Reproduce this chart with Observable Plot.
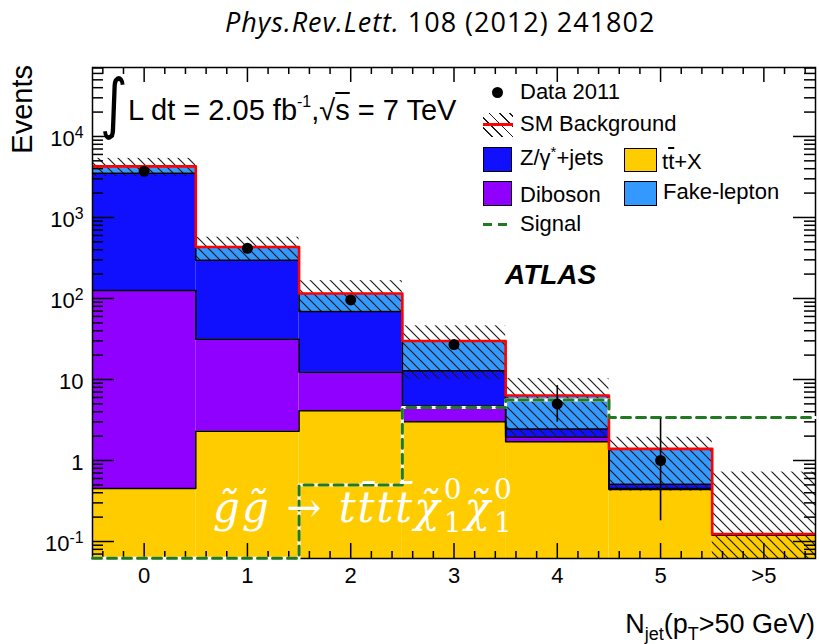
<!DOCTYPE html>
<html>
<head>
<meta charset="utf-8">
<script src="https://cdn.jsdelivr.net/npm/d3@7"></script>
<script src="https://cdn.jsdelivr.net/npm/@observablehq/plot@0.6"></script>
<style>
  body { margin: 0; background: #fff; }
  #chart { position: relative; width: 819px; height: 644px; font-family: "Liberation Sans", Arial, sans-serif; color: #000; overflow: hidden; }
  #chart svg { position: absolute; left: 0; top: 0; }
  .abs { position: absolute; white-space: nowrap; }
  #title { left: 225px; top: 5px; font: 27px "Open Sans", sans-serif; letter-spacing: 1px; line-height: 34px; }
  #ylab { left: 22px; top: 65px; font-size: 29px; line-height: 29px; transform-origin: 0 0; transform: rotate(-90deg) translate(-100%, -50%); }
  #xlab { right: 4px; top: 611px; font-size: 27px; line-height: 27px; }
  #xlab sub { font-size: 18px; vertical-align: -7px; line-height: 0; }
  .leg-text { font-size: 22px; line-height: 22px; }
  .swatch { position: absolute; box-sizing: border-box; border: 1.5px solid #000; }
  #lumi { left: 128px; top: 96px; font-size: 29px; line-height: 29px; }
  #lumi sup { font-size: 16px; vertical-align: 13px; line-height: 0; }
  #integral { left: 100px; top: 68px; font: 66px "DejaVu Sans", sans-serif; line-height: 72px; transform: scaleX(0.8); transform-origin: 0 0; }
  #atlas { left: 505px; top: 261px; font-size: 28px; line-height: 28px; font-weight: bold; font-style: italic; }
  #note { left: 213px; top: 487px; font: italic 42px "DejaVu Serif", serif; line-height: 42px; letter-spacing: 2px; color: #fff; }
  #note .up { font-style: normal; }
  #note .ss { display: inline-block; position: relative; width: 23px; height: 1px; }
  #note .ss span { position: absolute; left: 2px; font: 28px "DejaVu Serif", serif; line-height: 28px; letter-spacing: 0; }
  #note .ss .sup { top: -45px; }
  #note .ss .sub { top: -12px; }
  .ov { text-decoration: overline; }
</style>
</head>
<body>
<div id="chart"></div>
<script>
// Jet multiplicity bins
const bins = ["0", "1", "2", "3", "4", "5", ">5"];

// Background components per bin (events)
const ttbarX     = [0.45, 2.3, 4.1, 3.0, 1.7, 0.44, 0.12];
const diboson    = [125, 29, 8.2, 1.7, 0.25, 0.01, 0];
const zJets      = [3380, 265, 57, 8.1, 0.5, 0.06, 0];
const fakeLepton = [770, 135, 46, 17, 3.9, 0.88, 0.004];

// SM background uncertainty band
const bkgLow  = [3200, 295, 68, 10, 2.0, 0.42, 0.01];
const bkgHigh = [5370, 571, 166, 46, 10.3, 1.94, 0.72];

// Observed data 2011 with error bars
const data2011 = [3720, 417, 96, 27, 5, 1, null];
const dataLow  = [3660, 400, 90, 25, 2.97, 0.18, null];
const dataHigh = [3780, 434, 102, 30, 8.4, 3.27, null];

// Signal expectation
const signal = [0.062, 0.062, 0.50, 4.5, 5.6, 3.4, 3.4];

// Axis ticks
const yTicks = [0.1, 1, 10, 100, 1000, 10000];
const yTickLabels = ["10^-1", "1", "10", "10^2", "10^3", "10^4"];
const yDomain = [0.0617, 71000];

const W = 819, H = 644;
const margin = {top: 67, right: 4, bottom: 86, left: 92};
const innerW = W - margin.left - margin.right;
const innerH = H - margin.top - margin.bottom;

const colors = {ttbar: "#ffcc00", diboson: "#9000ff", zjets: "#1010ff", fake: "#3399ff", total: "#ff0000", signal: "#217a21"};

const stack = bins.map((label, i) => {
  const top1 = ttbarX[i];
  const top2 = top1 + diboson[i];
  const top3 = top2 + zJets[i];
  const top4 = top3 + fakeLepton[i];
  return {label, i, x1: i - 0.5, x2: i + 0.5, base: 1e-3, top1, top2, top3, top4, lo: bkgLow[i], hi: bkgHigh[i]};
});

const points = bins.map((label, i) => ({i, v: data2011[i], lo: dataLow[i], hi: dataHigh[i]})).filter(d => d.v != null);

// histogram outline: one point per left bin edge plus the closing right edge
function steps(values) {
  return values.map((v, i) => ({x: i - 0.5, y: v})).concat({x: values.length - 0.5, y: values[values.length - 1]});
}

// frame tick positions
const xMinor = d3.range(-4, 65, 2).map(k => k / 10).filter(v => Math.abs(v - Math.round(v)) > 1e-6);
const xMajor = bins.map((_, i) => i);
const yMinor = [];
for (let e = -2; e <= 4; e++) for (let m = 2; m <= 9; m++) {
  const v = m * Math.pow(10, e);
  if (v > yDomain[0] && v < yDomain[1]) yMinor.push(v);
}

const tick = {stroke: "#000", strokeWidth: 1.5};

const svg = Plot.plot({
  width: W, height: H,
  marginTop: margin.top, marginRight: margin.right, marginBottom: margin.bottom, marginLeft: margin.left,
  style: {fontFamily: "'Liberation Sans', Arial, sans-serif", fontSize: "22px", color: "#000", background: "transparent"},
  x: {domain: [-0.5, 6.5], axis: null},
  y: {type: "log", domain: yDomain, axis: null},
  marks: [
    // stacked backgrounds
    Plot.rect(stack, {x1: "x1", x2: "x2", y1: "base", y2: "top1", fill: colors.ttbar, clip: true}),
    Plot.rect(stack, {x1: "x1", x2: "x2", y1: "top1", y2: "top2", fill: colors.diboson, clip: true}),
    Plot.rect(stack, {x1: "x1", x2: "x2", y1: "top2", y2: "top3", fill: colors.zjets, clip: true}),
    Plot.rect(stack, {x1: "x1", x2: "x2", y1: "top3", y2: "top4", fill: colors.fake, clip: true}),
    // uncertainty band
    Plot.rect(stack, {x1: "x1", x2: "x2", y1: "lo", y2: "hi", fill: "url(#bkgHatch)", clip: true}),
    // layer outlines
    Plot.line(steps(stack.map(d => d.top1)), {x: "x", y: "y", curve: "step-after", stroke: "#000", strokeWidth: 1.5, clip: true}),
    Plot.line(steps(stack.map(d => d.top2)), {x: "x", y: "y", curve: "step-after", stroke: "#000", strokeWidth: 1.5, clip: true}),
    Plot.line(steps(stack.map(d => d.top3)), {x: "x", y: "y", curve: "step-after", stroke: "#000", strokeWidth: 1.5, clip: true}),
    Plot.line(steps(stack.map(d => d.top4)), {x: "x", y: "y", curve: "step-after", stroke: colors.total, strokeWidth: 2.6, clip: true}),
    // frame and ticks
    Plot.frame({stroke: "#000", strokeWidth: 1.5}),
    Plot.ruleX(xMajor, {x: d => d, insetTop: innerH - 15, ...tick}),
    Plot.ruleX(xMinor, {x: d => d, insetTop: innerH - 7, ...tick}),
    Plot.ruleX(xMajor, {x: d => d, insetBottom: innerH - 15, ...tick}),
    Plot.ruleX(xMinor, {x: d => d, insetBottom: innerH - 7, ...tick}),
    Plot.ruleY(yTicks, {y: d => d, insetRight: innerW - 22, ...tick}),
    Plot.ruleY(yMinor, {y: d => d, insetRight: innerW - 11, ...tick}),
    Plot.ruleY(yTicks, {y: d => d, insetLeft: innerW - 22, ...tick}),
    Plot.ruleY(yMinor, {y: d => d, insetLeft: innerW - 11, ...tick}),
    // signal
    Plot.line(steps(signal), {x: "x", y: "y", curve: "step-after", stroke: "#fff", strokeWidth: 3}),
    Plot.line(steps(signal), {x: "x", y: "y", curve: "step-after", stroke: colors.signal, strokeWidth: 3, strokeDasharray: "9,6"}),
    // data
    Plot.ruleX(points, {x: "i", y1: "lo", y2: "hi", stroke: "#000", strokeWidth: 1.6}),
    Plot.dot(points, {x: "i", y: "v", r: 5.5, fill: "#000"}),
    // tick labels
    Plot.text(yTicks, {y: d => d, text: (d, i) => yTickLabels[i], frameAnchor: "left", dx: -9, dy: 2, textAnchor: "end", fontSize: 22}),
    Plot.text(bins, {x: (d, i) => i, text: d => d, frameAnchor: "bottom", dy: 24, fontSize: 22})
  ]
});

// hatch pattern for the uncertainty band
const defs = d3.select(svg).insert("defs", ":first-child");
const pat = defs.append("pattern").attr("id", "bkgHatch").attr("patternUnits", "userSpaceOnUse")
  .attr("width", 10).attr("height", 10);
pat.append("path").attr("d", "M0,0L10,10M-1,9L1,11M9,-1L11,1").attr("stroke", "#1a1a1a").attr("stroke-width", 1.2);

// superscript exponents in tick labels
d3.select(svg).selectAll("text").each(function () {
  const s = this.textContent;
  if (!s.includes("^")) return;
  const [base, exp] = s.split("^");
  this.textContent = base;
  d3.select(this).append("tspan").attr("dy", "-0.45em").attr("font-size", "0.72em").text(exp);
});

const chart = document.getElementById("chart");
chart.appendChild(svg);

function addHTML(html) {
  chart.insertAdjacentHTML("beforeend", html);
}

addHTML(`<div id="title" class="abs"><i>Phys.Rev.Lett.</i> 108 (2012) 241802</div>`);
addHTML(`<div id="ylab" class="abs">Events</div>`);
addHTML(`<div id="xlab" class="abs">N<sub>jet</sub>(p<sub>T</sub>&gt;50 GeV)</div>`);
addHTML(`<div id="integral" class="abs">∫</div>`);
addHTML(`<div id="lumi" class="abs">L dt = 2.05 fb<sup>-1</sup>,√<span class="ov">s</span> = 7 TeV</div>`);
addHTML(`<div id="atlas" class="abs">ATLAS</div>`);
addHTML(`<div id="note" class="abs">g\u0303g\u0303 <span class="up">→</span> tt\u0304tt\u0304χ\u0303<span class="ss"><span class="sup">0</span><span class="sub">1</span></span>χ\u0303<span class="ss"><span class="sup">0</span><span class="sub">1</span></span></div>`);

// legend
addHTML(`<div class="abs" style="left:491.5px;top:86.5px;width:11px;height:11px;border-radius:50%;background:#000"></div>`);
addHTML(`<div class="abs leg-text" style="left:520px;top:81px">Data 2011</div>`);
addHTML(`<div class="abs" style="left:483px;top:113px;width:30px;height:24px;background:repeating-linear-gradient(45deg, transparent 0 6px, #1a1a1a 6px 7.3px)"></div>`);
addHTML(`<div class="abs" style="left:483px;top:123px;width:30px;height:2.5px;background:${colors.total}"></div>`);
addHTML(`<div class="abs leg-text" style="left:520px;top:113px">SM Background</div>`);
addHTML(`<div class="swatch" style="left:483px;top:147px;width:29px;height:25px;background:${colors.zjets}"></div>`);
addHTML(`<div class="abs leg-text" style="left:520px;top:147px">Z/γ<sup style="font-size:15px;vertical-align:8px;line-height:0">*</sup>+jets</div>`);
addHTML(`<div class="swatch" style="left:624px;top:148px;width:33px;height:24px;background:${colors.ttbar}"></div>`);
addHTML(`<div class="abs leg-text" style="left:662px;top:151px">t<span class="ov">t</span>+X</div>`);
addHTML(`<div class="swatch" style="left:483px;top:181px;width:29px;height:25px;background:${colors.diboson}"></div>`);
addHTML(`<div class="abs leg-text" style="left:520px;top:184px">Diboson</div>`);
addHTML(`<div class="swatch" style="left:624px;top:181px;width:33px;height:25px;background:${colors.fake}"></div>`);
addHTML(`<div class="abs leg-text" style="left:663px;top:181px">Fake-lepton</div>`);
addHTML(`<div class="abs" style="left:483px;top:223px;width:24px;height:3px;background:repeating-linear-gradient(90deg, ${colors.signal} 0 9px, transparent 9px 15px)"></div>`);
addHTML(`<div class="abs leg-text" style="left:520px;top:213px">Signal</div>`);
</script>
</body>
</html>
